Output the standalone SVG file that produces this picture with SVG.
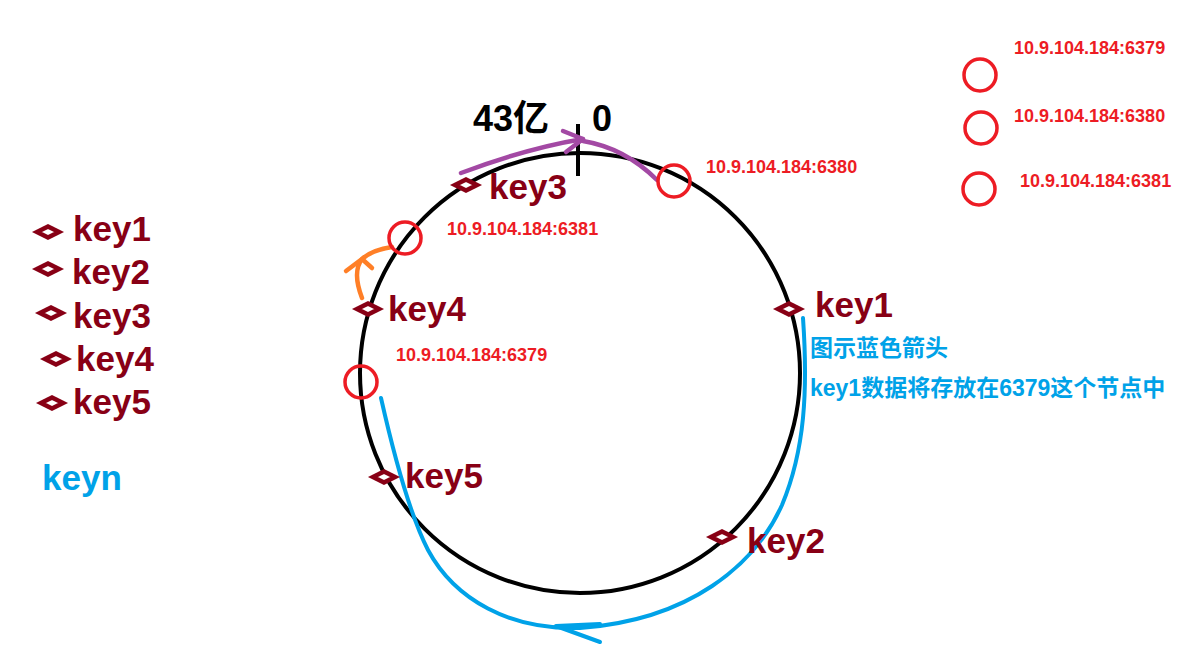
<svg xmlns="http://www.w3.org/2000/svg" width="1184" height="653" viewBox="0 0 1184 653">
<style>
.key{font-family:"Liberation Sans","Noto Sans CJK SC",sans-serif;font-weight:bold;font-size:35px;fill:#880015}
.ip{font-family:"Liberation Sans",sans-serif;font-weight:bold;font-size:18px;fill:#ed1c24}
.blue{font-family:"Liberation Sans","Noto Sans CJK SC",sans-serif;font-weight:bold;fill:#00a2e8}
.blk{font-family:"Liberation Sans","Noto Sans CJK SC",sans-serif;font-weight:bold;font-size:36px;fill:#000}
.dia{fill:#fff;stroke:#880015;stroke-width:4.5;stroke-linejoin:miter}
.node{fill:none;stroke:#ed1c24;stroke-width:3.5}
</style>
<defs>
<polygon id="d" class="dia" points="-11,0 0,-5.5 11,0 0,5.5"/>
</defs>
<rect width="1184" height="653" fill="#fff"/>
<g id="ring">
<circle cx="580" cy="373" r="220" fill="none" stroke="#000" stroke-width="4"/>
<line x1="578" y1="124" x2="578" y2="176" stroke="#000" stroke-width="4"/>
<text class="blk" x="473" y="131">43亿</text>
<text class="blk" x="592" y="131">0</text>
</g>
<g id="connectors" fill="none" stroke-linecap="round" stroke-linejoin="round">
<path d="M461,173 Q528,148 583,139" stroke="#a349a4" stroke-width="4.5"/>
<path d="M563,131 L583,139 L566,152" stroke="#a349a4" stroke-width="4.5"/>
<path d="M583,141 Q625,148 657,180" stroke="#a349a4" stroke-width="4.5"/>
<path d="M362,298 Q352,272 362,259 Q372,250 392,247" stroke="#ff7f27" stroke-width="4.5"/>
<path d="M346,271 L362,259 L372,268" stroke="#ff7f27" stroke-width="4.5"/>
<path d="M803,318 C808,390 805,450 782,505 C755,565 690,620 580,628 C510,630 455,600 428,550 C410,515 395,460 381,398" stroke="#00a2e8" stroke-width="4"/>
<path d="M600,624 L556,626 L600,642" stroke="#00a2e8" stroke-width="4"/>
</g>
<g id="node6380"><circle class="node" cx="674" cy="181" r="16"/><text class="ip" x="706" y="173">10.9.104.184:6380</text></g>
<g id="node6381"><circle class="node" cx="405" cy="238" r="16"/><text class="ip" x="447" y="235">10.9.104.184:6381</text></g>
<g id="node6379"><circle class="node" cx="361" cy="382" r="16"/><text class="ip" x="396" y="361">10.9.104.184:6379</text></g>
<g id="ring-key3"><use href="#d" x="466" y="185"/><text class="key" x="489" y="199">key3</text></g>
<g id="ring-key4"><use href="#d" x="368" y="309"/><text class="key" x="388" y="321">key4</text></g>
<g id="ring-key1"><use href="#d" x="789" y="309"/><text class="key" x="815" y="317">key1</text></g>
<g id="ring-key5"><use href="#d" x="384" y="477"/><text class="key" x="405" y="488">key5</text></g>
<g id="ring-key2"><use href="#d" x="722" y="537"/><text class="key" x="747" y="553">key2</text></g>
<g id="list-key1"><use href="#d" x="48" y="232"/><text class="key" x="73" y="241">key1</text></g>
<g id="list-key2"><use href="#d" x="48" y="269"/><text class="key" x="72" y="284">key2</text></g>
<g id="list-key3"><use href="#d" x="51" y="313"/><text class="key" x="73" y="328">key3</text></g>
<g id="list-key4"><use href="#d" x="56" y="359"/><text class="key" x="76" y="371">key4</text></g>
<g id="list-key5"><use href="#d" x="52" y="403"/><text class="key" x="73" y="414">key5</text></g>
<g id="keyn"><text class="blue" x="42" y="490" font-size="35">keyn</text></g>
<g id="note">
<text class="blue" x="810" y="356" font-size="23">图示蓝色箭头</text>
<text class="blue" x="810" y="396" font-size="23">key1数据将存放在6379这个节点中</text>
</g>
<g id="legend">
<circle class="node" cx="980" cy="75" r="16"/><text class="ip" x="1014" y="54">10.9.104.184:6379</text>
<circle class="node" cx="981" cy="128" r="16"/><text class="ip" x="1014" y="122">10.9.104.184:6380</text>
<circle class="node" cx="979" cy="189" r="16"/><text class="ip" x="1020" y="187">10.9.104.184:6381</text>
</g>
</svg>
